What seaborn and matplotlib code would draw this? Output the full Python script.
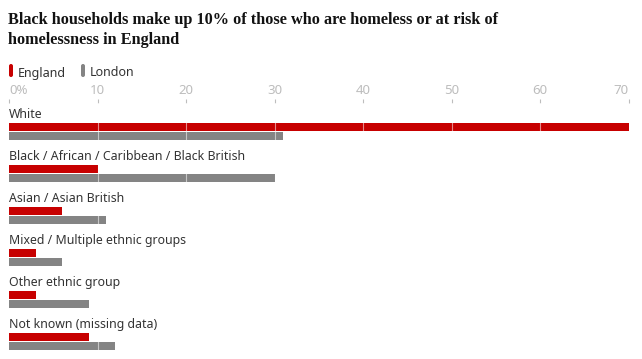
import matplotlib

matplotlib.use("Agg")

import matplotlib.pyplot as plt
import pandas as pd
import seaborn as sns
from matplotlib.patches import FancyBboxPatch
from matplotlib.transforms import IdentityTransform

# ---------------------------------------------------------------------------
# Data (share of households owed a homelessness duty, %)
# ---------------------------------------------------------------------------

groups = [
    "White",
    "Black / African / Caribbean / Black British",
    "Asian / Asian British",
    "Mixed / Multiple ethnic groups",
    "Other ethnic group",
    "Not known (missing data)",
]
england = [70.1, 10.0, 6.0, 3.0, 3.0, 9.0]
london = [31.0, 30.0, 11.0, 6.0, 9.0, 12.0]
regions = ["England", "London"]

ticks = [0, 10, 20, 30, 40, 50, 60, 70]
tick_labels = ["0%", "10", "20", "30", "40", "50", "60", "70"]

title_lines = [
    "Black households make up 10% of those who are homeless or at risk of",
    "homelessness in England",
]

# ---------------------------------------------------------------------------
# Style
# ---------------------------------------------------------------------------

W, H = 642, 359
RED = "#c70000"
GREY = "#848484"
TEXT = "#333333"
AXIS = "#bdbdbd"
ROW = 42  # pixels per category row

sns.set_theme(style="white")
plt.rcParams["font.family"] = ["Noto Sans", "DejaVu Sans"]

df = pd.DataFrame(
    {
        "group": groups * 2,
        "region": [regions[0]] * len(groups) + [regions[1]] * len(groups),
        "value": england + london,
    }
)

fig = plt.figure(figsize=(W / 100, H / 100), dpi=100)
ax = fig.add_axes([9 / W, 0, 619.7 / W, (H - 103) / H])

sns.barplot(
    data=df,
    x="value",
    y="group",
    hue="region",
    order=groups,
    hue_order=regions,
    palette=[RED, GREY],
    saturation=1,
    width=18 / ROW,
    gap=0.1,
    orient="h",
    legend=False,
    linewidth=0,
    edgecolor="none",
    ax=ax,
)

ax.set_xlim(0, 70)
ax.set_ylim(len(groups) - 1 + 17.5 / ROW, -28.5 / ROW)
ax.set_xlabel("")
ax.set_ylabel("")
ax.set_yticks([])
for s in ax.spines.values():
    s.set_visible(False)

ax.xaxis.tick_top()
ax.set_xticks(ticks)
ax.set_xticklabels(tick_labels)
ax.tick_params(
    axis="x", length=3, width=0.8, color=AXIS, labelcolor=AXIS, labelsize=9.5, pad=1.5
)
xl = ax.get_xticklabels()
xl[0].set_ha("left")
xl[-1].set_ha("right")

# light gridlines only show where they cross the bars
for t in ticks[1:-1]:
    ax.axvline(t, color="white", alpha=0.55, lw=0.8, zorder=2)

for i, g in enumerate(groups):
    ax.text(
        0,
        i - 13.5 / ROW,
        g,
        ha="left",
        va="baseline",
        fontsize=8.85,
        color=TEXT,
        fontweight="bold" if i == 1 else "normal",
        zorder=4,
    )

# Title
for k, line in enumerate(title_lines):
    fig.text(
        8 / W,
        1 - (23.5 + 20 * k) / H,
        line,
        ha="left",
        va="baseline",
        fontsize=11.7,
        fontweight="bold",
        family=["Liberation Serif", "DejaVu Serif"],
        color="#121212",
    )

# Legend
for x0, label, col in [(9, regions[0], RED), (81, regions[1], GREY)]:
    fig.add_artist(
        FancyBboxPatch(
            (x0, H - 77),
            4,
            13,
            boxstyle="round,pad=0,rounding_size=2",
            transform=IdentityTransform(),
            facecolor=col,
            edgecolor="none",
        )
    )
    fig.text((x0 + 9) / W, 1 - 76.5 / H, label, ha="left", va="baseline", fontsize=9, color=TEXT)

fig.savefig("out.png", dpi=100)
